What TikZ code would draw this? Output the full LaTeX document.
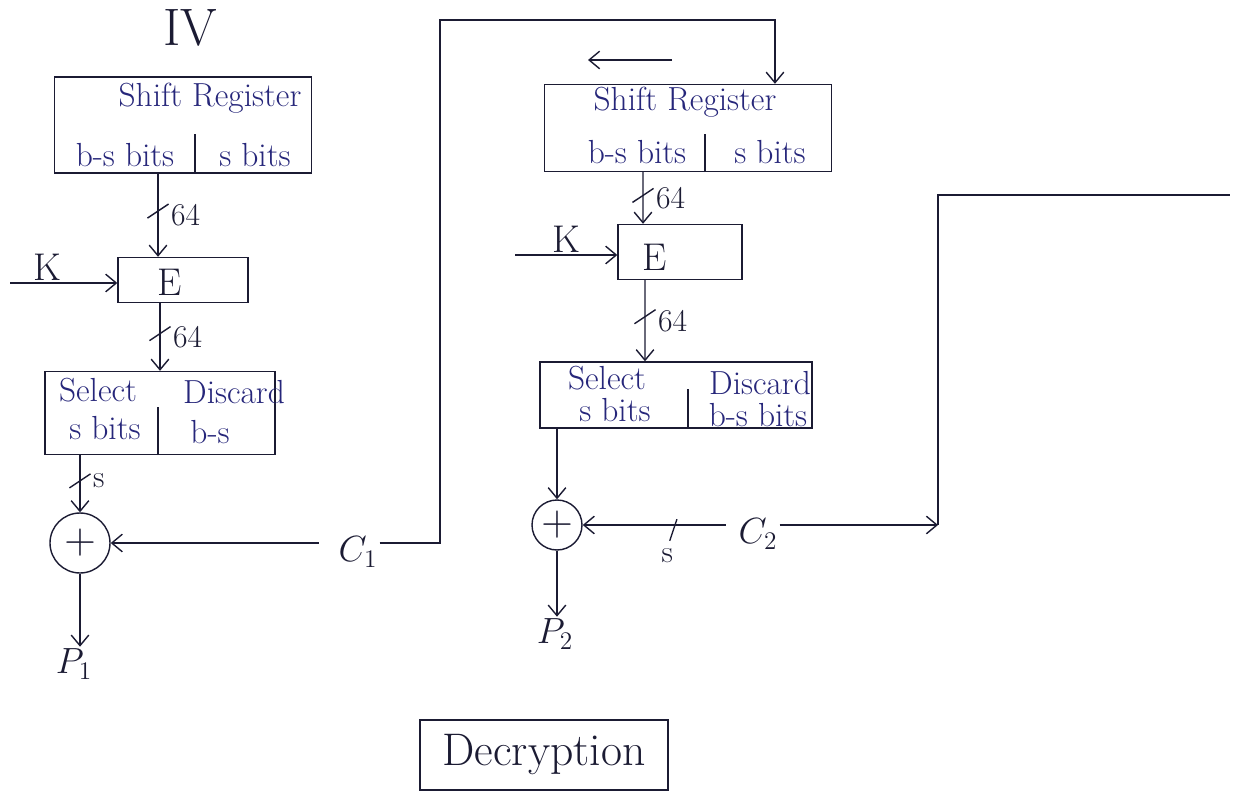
\documentclass[tikz,border=0pt]{standalone}
\usepackage{tikz}
\usetikzlibrary{arrows.meta,decorations.markings,positioning}
\definecolor{inkline}{HTML}{1B1B33}
\definecolor{inktext}{HTML}{26267A}
\colorlet{paper}{white}

\tikzset{
  blockbox/.style={rectangle, draw=inkline, thick, inner sep=0pt},
  boxtxt/.style={text=inktext, font=\fontsize{19}{22}\selectfont, inner sep=1pt},
  sidetxt/.style={text=inkline, font=\fontsize{18}{21}\selectfont, inner sep=1pt},
  bigtxt/.style={text=inkline, font=\fontsize{22}{26}\selectfont, inner sep=1pt},
  wire/.style={draw=inkline, thick},
  flow/.style={wire, -{Straight Barb[length=6pt,width=10pt]}},
  bus/.style={postaction={decorate}, decoration={markings,
      mark=at position 0.45 with {\draw[inkline, thick, -] (-4pt,6pt) -- (4pt,-6pt);}}},
  hbus/.style={postaction={decorate}, decoration={markings,
      mark=at position 0.4 with {\draw[inkline, thick, -] (-3pt,-9pt) -- (3pt,9pt);}}},
  xorop/.style={circle, draw=inkline, thick, inner sep=0pt,
      font=\fontsize{28}{28}\selectfont, text=inkline},
}

\begin{document}
\begin{tikzpicture}[x=0.02cm, y=-0.02cm]
  \useasboundingbox[fill=paper] (0,0) rectangle (1239,810);

  % first stage: IV loaded into the register
  \node[bigtxt, font=\fontsize{30}{34}\selectfont] (iv) at (190,28) {IV};
  \node[blockbox, minimum width=5.14cm, minimum height=1.92cm] (sr1) at (183,125) {};
  \node[boxtxt] (sr1top) at (210,98) {Shift Register};
  \node[boxtxt] (sr1lo) at (125,155) {b-s bits};
  \node[boxtxt] (sr1hi) at (255,155) {s bits};
  \draw[wire] ([xshift=0.24cm]sr1.south) -- ++(0,-40);

  \node[blockbox, minimum width=2.6cm, minimum height=0.9cm] (enc1) at (183,280) {};
  \node[bigtxt] (enc1t) at (170,282) {E};
  \coordinate (key1) at (10,283);
  \draw[flow] (key1) -- (key1 -| enc1.west) node[bigtxt, above, pos=0.35] {K};
  \draw[flow, bus] ([xshift=-0.5cm]sr1.south) -- ([xshift=-0.5cm]enc1.north)
      node[sidetxt, pos=0.5, right=6pt] {64};

  \node[blockbox, minimum width=4.6cm, minimum height=1.66cm] (sel1) at (160,413) {};
  \node[boxtxt] (sel1a) at (98,390) {Select};
  \node[boxtxt] (sel1b) at (105,428) {s bits};
  \node[boxtxt] (sel1c) at (234,392) {Discard};
  \node[boxtxt] (sel1d) at (210,432) {b-s};
  \draw[wire] ([xshift=-0.04cm]sel1.south) -- ++(0,-48);
  \draw[flow, bus] (enc1.south -| sel1.north) -- (sel1.north)
      node[sidetxt, pos=0.5, right=6pt] {64};

  \node[xorop, minimum size=1.2cm] (xor1) at (80,543) {$+$};
  \draw[flow, bus] (sel1.south -| xor1.north) -- (xor1.north)
      node[sidetxt, pos=0.45, right=6pt] {s};
  \node[bigtxt] (c1) at (358,552) {$C_1$};
  \draw[flow, shorten <=10pt] (c1.west |- xor1.east) -- (xor1.east);
  \node[bigtxt] (p1) at (74,664) {$P_1$};
  \draw[flow] (xor1.south) -- (xor1.south |- p1.north);

  % C1 fed back into the next register
  \node[blockbox, minimum width=5.74cm, minimum height=1.74cm] (sr2) at (688,128) {};
  \coordinate (c1up) at (440,20);
  \draw[flow] (c1.east |- xor1.east) -| (c1up) -| ([xshift=1.74cm]sr2.north);
  \coordinate (shfrom) at (672,60);
  \coordinate (shto) at (588,60);
  \draw[flow] (shfrom) -- (shto);
  \node[boxtxt] (sr2top) at (685,102) {Shift Register};
  \node[boxtxt] (sr2lo) at (637,152) {b-s bits};
  \node[boxtxt] (sr2hi) at (770,152) {s bits};
  \draw[wire] ([xshift=0.34cm]sr2.south) -- ++(0,-38);

  \node[blockbox, minimum width=2.48cm, minimum height=1.1cm] (enc2) at (680,252) {};
  \node[bigtxt] (enc2t) at (655,257) {E};
  \coordinate (key2) at (515,255);
  \draw[flow] (key2) -- (key2 -| enc2.west) node[bigtxt, above, pos=0.5] {K};
  \draw[flow, bus] ([xshift=-0.9cm]sr2.south) -- ([xshift=-0.74cm]enc2.north)
      node[sidetxt, pos=0.5, right=6pt] {64};

  \node[blockbox, minimum width=5.44cm, minimum height=1.32cm] (sel2) at (676,395) {};
  \node[boxtxt] (sel2a) at (607,378) {Select};
  \node[boxtxt] (sel2b) at (615,410) {s bits};
  \node[boxtxt] (sel2c) at (760,383) {Discard};
  \node[boxtxt] (sel2d) at (758,415) {b-s bits};
  \draw[wire] ([xshift=0.24cm]sel2.south) -- ++(0,-40);
  \draw[flow, bus] ([xshift=-0.7cm]enc2.south) -- ([xshift=-0.62cm]sel2.north)
      node[sidetxt, pos=0.5, right=6pt] {64};

  \node[xorop, minimum size=1.0cm] (xor2) at (557,525) {$+$};
  \draw[flow] (sel2.south -| xor2.north) -- (xor2.north);
  \node[bigtxt] (c2) at (758,534) {$C_2$};
  \draw[flow, hbus, shorten <=6pt] (c2.west |- xor2.east) -- (xor2.east)
      node[sidetxt, pos=0.45, below=12pt] {s};
  \node[bigtxt] (p2) at (555,634) {$P_2$};
  \draw[flow] (xor2.south) -- (xor2.south |- p2.north);

  % C2 carried on to the following stage
  \coordinate (c2turn) at (938,525);
  \coordinate (c2up) at (938,195);
  \coordinate (c2next) at (1230,195);
  \draw[flow] (c2.east |- xor2.east) -- (c2turn);
  \draw[wire] (c2turn) -- (c2up) -- (c2next);

  \node[blockbox, minimum width=4.96cm, minimum height=1.4cm,
        font=\fontsize{26}{30}\selectfont, text=inkline] (title) at (544,755) {Decryption};
\end{tikzpicture}
\end{document}
